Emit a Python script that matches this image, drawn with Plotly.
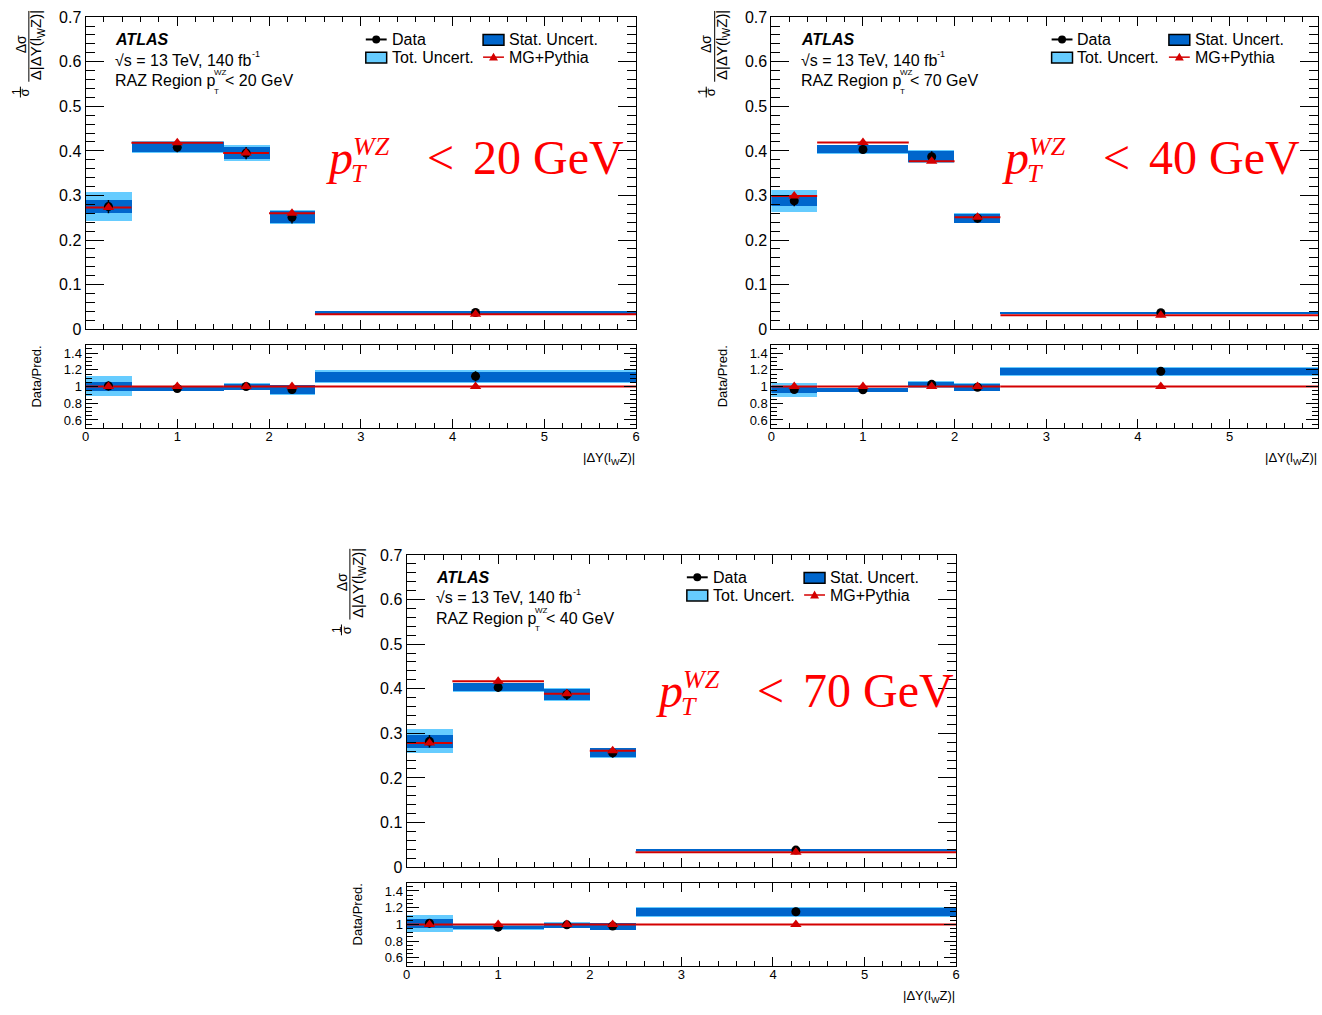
import plotly.graph_objects as go

# ---------------------------------------------------------------- data
bin_edges = [0.0, 0.5, 1.5, 2.0, 2.5, 6.0]
bin_centres = [0.25, 1.0, 1.75, 2.25, 4.25]
x_tick_labels = ["0", "1", "2", "3", "4", "5", "6"]
y_tick_labels = ["0", "0.1", "0.2", "0.3", "0.4", "0.5", "0.6", "0.7"]
r_tick_labels = ["0.6", "0.8", "1", "1.2", "1.4"]

# normalised cross-section, pT(WZ) < 20 GeV
data_20 = [0.275, 0.408, 0.395, 0.251, 0.0375]
stat_20 = [0.015, 0.011, 0.014, 0.014, 0.0020]
tot_20 = [0.033, 0.013, 0.017, 0.016, 0.0027]
pred_20 = [0.273, 0.418, 0.395, 0.260, 0.0334]

# normalised cross-section, pT(WZ) < 40 GeV
data_40 = [0.288, 0.403, 0.387, 0.249, 0.0370]
stat_40 = [0.012, 0.009, 0.012, 0.010, 0.0013]
tot_40 = [0.025, 0.011, 0.014, 0.012, 0.0017]
pred_40 = [0.299, 0.419, 0.377, 0.251, 0.0313]

# normalised cross-section, pT(WZ) < 70 GeV
data_70 = [0.282, 0.403, 0.387, 0.256, 0.0380]
stat_70 = [0.014, 0.009, 0.012, 0.010, 0.0016]
tot_70 = [0.027, 0.011, 0.014, 0.012, 0.0021]
pred_70 = [0.278, 0.417, 0.389, 0.261, 0.0330]

region_cuts = ["20 GeV", "70 GeV", "40 GeV"]   # text in the ATLAS label block
banner_cuts = ["20 GeV", "40 GeV", "70 GeV"]   # large red banner text

# ---------------------------------------------------------------- style
W, H = 1322, 1015
SANS = "Liberation Sans"
SERIF = "Liberation Serif"
STAT_C = "#0066cc"
TOT_C = "#66ccff"
RED = "#d40000"


# pixel -> paper coordinate
def fx(p):
    return p / W


def fy(p):
    return 1 - p / H


UNIT = 92.2   # pixels per unit of |dY|
# panel placement in pixels (offsets relative to the first panel)
panels = [
    dict(dx=0, dy=0, x1=636, d=data_20, s=stat_20, t=tot_20, p=pred_20,
         region=region_cuts[0], banner=banner_cuts[0], bx=323, bbase=168),
    dict(dx=690, dy=0, x1=W, d=data_40, s=stat_40, t=tot_40, p=pred_40,
         region=region_cuts[1], banner=banner_cuts[1], bx=1003, bbase=168),
    dict(dx=323, dy=547, x1=958, d=data_70, s=stat_70, t=tot_70, p=pred_70,
         region=region_cuts[2], banner=banner_cuts[2], bx=655, bbase=710),
]
X0 = 82
MAIN_TOP, MAIN_BOT = 9.3, 326.7
RAT_TOP, RAT_BOT = 342.5, 427.5

fig = go.Figure()
annotations = []
shapes = []
layout_axes = {}


def txt(x, y, s, size, family=SANS, color="black", xanchor="left",
        yanchor="middle", angle=0):
    # the annotation box adds a px of padding round the text
    if xanchor == "left":
        x -= 1
    elif xanchor == "right":
        x += 1
    annotations.append(dict(x=fx(x), y=fy(y), xref="paper", yref="paper", text=s,
                            showarrow=False, textangle=angle,
                            font=dict(size=size, family=family, color=color),
                            xanchor=xanchor, yanchor=yanchor))


def hline(x0, x1, y, color="black", width=1.0):
    shapes.append(dict(type="line", xref="paper", yref="paper", x0=fx(x0), x1=fx(x1),
                       y0=fy(y), y1=fy(y), line=dict(color=color, width=width)))


def vline(x, y0, y1, color="black", width=1.0):
    shapes.append(dict(type="line", xref="paper", yref="paper", x0=fx(x), x1=fx(x),
                       y0=fy(y0), y1=fy(y1), line=dict(color=color, width=width)))


widths = [bin_edges[i + 1] - bin_edges[i] for i in range(len(bin_centres))]

for k, pn in enumerate(panels):
    dx, dy = pn["dx"], pn["dy"]
    d, s, t, p = pn["d"], pn["s"], pn["t"], pn["p"]
    im, ir = 2 * k + 1, 2 * k + 2
    xm, ym = f"x{im}", f"y{im}"
    xr, yr = f"x{ir}", f"y{ir}"
    # the right-hand panel runs off the edge of the canvas
    xmax = 6.0 if pn["x1"] < W else (W - (X0 + dx)) / UNIT

    # ratio values
    rd = [d[i] / p[i] for i in range(5)]
    rs = [s[i] / p[i] for i in range(5)]
    rt = [t[i] / p[i] for i in range(5)]
    rp = [p[i] / p[i] for i in range(5)]

    for (xa, ya, vals, st, tt, pv) in [(xm, ym, d, s, t, p), (xr, yr, rd, rs, rt, rp)]:
        fig.add_trace(go.Bar(x=bin_centres, y=[2 * e for e in tt],
                             base=[vals[i] - tt[i] for i in range(5)], width=widths,
                             marker=dict(color=TOT_C, line=dict(width=0)),
                             xaxis=xa, yaxis=ya, hoverinfo="skip"))
        fig.add_trace(go.Bar(x=bin_centres, y=[2 * e for e in st],
                             base=[vals[i] - st[i] for i in range(5)], width=widths,
                             marker=dict(color=STAT_C, line=dict(width=0)),
                             xaxis=xa, yaxis=ya, hoverinfo="skip"))
        lx, ly = [], []
        for i in range(5):
            lx += [bin_edges[i], bin_edges[i + 1], None]
            ly += [pv[i], pv[i], None]
        fig.add_trace(go.Scatter(x=lx, y=ly, mode="lines",
                                 line=dict(color=RED, width=2),
                                 xaxis=xa, yaxis=ya, hoverinfo="skip"))
        fig.add_trace(go.Scatter(x=bin_centres, y=vals, mode="markers",
                                 marker=dict(color="black", size=9, symbol="circle"),
                                 error_y=dict(type="data", array=st, color="black",
                                              thickness=1.5, width=0),
                                 xaxis=xa, yaxis=ya))
        fig.add_trace(go.Scatter(x=bin_centres, y=pv, mode="markers",
                                 marker=dict(color=RED, size=10, symbol="triangle-up"),
                                 xaxis=xa, yaxis=ya))

    xdom = [fx(X0 + dx), min(fx(pn["x1"]), 1.0)]
    common_x = dict(domain=xdom, range=[0, xmax], tickmode="array",
                    tickvals=list(range(7)), ticktext=x_tick_labels,
                    ticks="inside", ticklen=9, tickcolor="black", tickwidth=1,
                    minor=dict(tickmode="linear", tick0=0, dtick=0.2, ticks="inside",
                               ticklen=5, tickcolor="black", tickwidth=1),
                    showline=True, linecolor="black", linewidth=1, mirror="allticks",
                    showgrid=False, zeroline=False, fixedrange=True)
    layout_axes[f"xaxis{im}"] = dict(common_x, anchor=ym, showticklabels=False)
    layout_axes[f"xaxis{ir}"] = dict(common_x, anchor=yr, showticklabels=True,
                                     ticklabelstandoff=-4,
                                     tickfont=dict(size=13, family=SANS, color="black"))
    layout_axes[f"yaxis{im}"] = dict(
        domain=[fy(MAIN_BOT + dy), fy(MAIN_TOP + dy)], range=[0, 0.7], anchor=xm,
        tickmode="array", tickvals=[i / 10 for i in range(8)], ticktext=y_tick_labels,
        ticks="inside", ticklen=18, tickcolor="black", tickwidth=1,
        minor=dict(tickmode="linear", tick0=0, dtick=0.02, ticks="inside",
                   ticklen=9, tickcolor="black", tickwidth=1),
        tickfont=dict(size=16, family=SANS, color="black"),
        showline=True, linecolor="black", linewidth=1, mirror="allticks",
        showgrid=False, zeroline=False, fixedrange=True)
    layout_axes[f"yaxis{ir}"] = dict(
        domain=[fy(RAT_BOT + dy), fy(RAT_TOP + dy)], range=[0.5, 1.5], anchor=xr,
        tickmode="array", tickvals=[0.6, 0.8, 1.0, 1.2, 1.4], ticktext=r_tick_labels,
        ticks="inside", ticklen=12, tickcolor="black", tickwidth=1,
        minor=dict(tickmode="linear", tick0=0.5, dtick=0.05, ticks="inside",
                   ticklen=6, tickcolor="black", tickwidth=1),
        tickfont=dict(size=13, family=SANS, color="black"),
        showline=True, linecolor="black", linewidth=1, mirror="allticks",
        showgrid=False, zeroline=False, fixedrange=True)

    # y-axis title of the main pad: 1/sigma dsigma/d|dY|
    txt(17 + dx, 37 + dy, "Δσ", 14, xanchor="center", angle=-90)
    vline(25 + dx, 3 + dy, 75 + dy, width=1)
    txt(33 + dx, 38 + dy, "Δ|ΔY(l<sub>W</sub>Z)|", 15, xanchor="center", angle=-90)
    txt(12.5 + dx, 85 + dy, "1", 12, xanchor="center", angle=-90)
    vline(16.5 + dx, 80 + dy, 91 + dy, width=1)
    txt(21 + dx, 86 + dy, "σ", 13, xanchor="center", angle=-90)

    # ratio pad y title and x title
    txt(33 + dx, 375 + dy, "Data/Pred.", 13, xanchor="center", angle=-90)
    txt(pn["x1"], 458 + dy, "|ΔY(l<sub>W</sub>Z)|", 13, xanchor="right")

    # ATLAS label block
    txt(111 + dx, 32.5 + dy, "<b><i>ATLAS</i></b>", 16)
    txt(111 + dx, 53 + dy, "√s = 13 TeV, 140 fb", 16)
    txt(248 + dx, 46.5 + dy, "-1", 9)
    txt(111 + dx, 74 + dy, "RAZ Region p", 16)
    txt(210 + dx, 65.5 + dy, "WZ", 8)
    txt(210 + dx, 84.5 + dy, "T", 8)
    txt(221 + dx, 74 + dy, "< " + pn["region"], 16)

    # legend
    hline(364 + dx, 385 + dx, 32 + dy, width=2)
    shapes.append(dict(type="circle", xref="paper", yref="paper",
                       x0=fx(370.5 + dx), x1=fx(378.5 + dx), y0=fy(36 + dy), y1=fy(28 + dy),
                       fillcolor="black", line=dict(color="black", width=0)))
    txt(389 + dx, 32 + dy, "Data", 16)
    shapes.append(dict(type="rect", xref="paper", yref="paper",
                       x0=fx(482 + dx), x1=fx(503 + dx), y0=fy(38 + dy), y1=fy(27 + dy),
                       fillcolor=STAT_C, line=dict(color="black", width=1.5)))
    txt(507 + dx, 32 + dy, "Stat. Uncert.", 16)
    shapes.append(dict(type="rect", xref="paper", yref="paper",
                       x0=fx(364 + dx), x1=fx(385 + dx), y0=fy(56 + dy), y1=fy(45 + dy),
                       fillcolor=TOT_C, line=dict(color="black", width=1.5)))
    txt(389 + dx, 50 + dy, "Tot. Uncert.", 16)
    hline(482 + dx, 503 + dx, 50 + dy, color=RED, width=1.5)
    tx, ty = 492.5 + dx, 50 + dy
    shapes.append(dict(type="path", xref="paper", yref="paper",
                       path=(f"M {fx(tx - 4.5)},{fy(ty + 3.5)} L {fx(tx + 4.5)},{fy(ty + 3.5)} "
                             f"L {fx(tx)},{fy(ty - 4.5)} Z"),
                       fillcolor=RED, line=dict(color=RED, width=0)))
    txt(507 + dx, 50 + dy, "MG+Pythia", 16)

    # large red banner: p_T^WZ < X GeV
    bx, bb = pn["bx"], pn["bbase"]
    txt(bx, bb - 16.2, "<i>p</i>", 48, family=SERIF, color="red")
    txt(bx + 25, bb + 0.5, "<i>T</i>", 26, family=SERIF, color="red")
    txt(bx + 27, bb - 27, "<i>WZ</i>", 26, family=SERIF, color="red")
    txt(bx + 102, bb - 16.2, "<", 48, family=SERIF, color="red")
    txt(bx + 148, bb - 16.2, pn["banner"], 48, family=SERIF, color="red")

fig.update_layout(
    width=W, height=H, margin=dict(l=0, r=0, t=0, b=0),
    paper_bgcolor="white", plot_bgcolor="white",
    barmode="overlay", bargap=0, showlegend=False,
    annotations=annotations, shapes=shapes,
    font=dict(family=SANS, color="black"),
    **layout_axes,
)

fig.write_html("out.html")
